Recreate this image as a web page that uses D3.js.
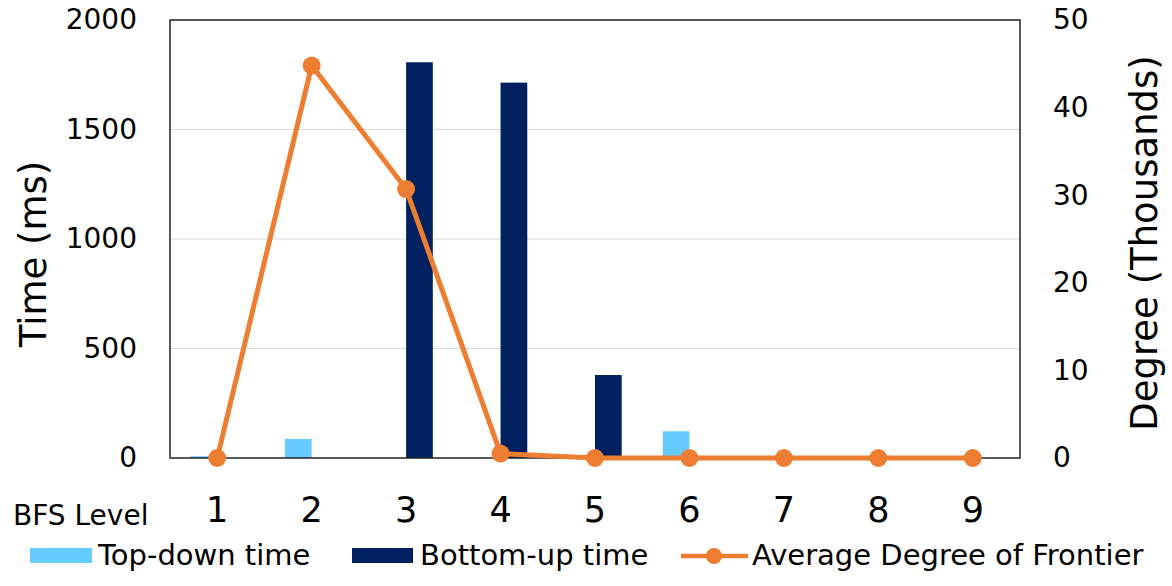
<!DOCTYPE html>
<html>
<head>
<meta charset="utf-8">
<script src="https://cdn.jsdelivr.net/npm/d3@7"></script>
<style>
  html, body { margin: 0; padding: 0; background: #fff; }
  text { font-family: "DejaVu Sans", Verdana, sans-serif; fill: #000; }
</style>
</head>
<body>
<svg id="chart" width="1172" height="586"></svg>
<script>
// ---- data ----
const levels = ["1", "2", "3", "4", "5", "6", "7", "8", "9"];
const topDownTime = [8, 87, 0, 0, 0, 122, 0, 0, 0];
const bottomUpTime = [0, 0, 1807, 1714, 379, 0, 0, 0, 0];
const avgDegree = [0, 44.8, 30.7, 0.5, 0, 0, 0, 0, 0];
const leftTicks = [0, 500, 1000, 1500, 2000];
const rightTicks = [0, 10, 20, 30, 40, 50];
const seriesNames = ["Top-down time", "Bottom-up time", "Average Degree of Frontier"];

const colors = { td: "#66CCFF", bu: "#002060", line: "#ED7D31" };

const svg = d3.select("#chart");
const m = { left: 170, right: 1020, top: 20, bottom: 458 };

const x = d3.scaleBand().domain(levels).range([m.left, m.right]).paddingInner(0).paddingOuter(0);
const xSub = d3.scaleBand().domain(["td", "bu"]).range([0, x.bandwidth()]).paddingInner(0).paddingOuter(0.768);
const yL = d3.scaleLinear().domain([0, 2000]).range([m.bottom, m.top]);
const yR = d3.scaleLinear().domain([0, 50]).range([m.bottom, m.top]);

// gridlines
svg.append("g").selectAll("line").data(leftTicks.filter(d => d > 0 && d < 2000)).join("line")
  .attr("x1", m.left).attr("x2", m.right)
  .attr("y1", d => yL(d)).attr("y2", d => yL(d))
  .attr("stroke", "#d9d9d9").attr("stroke-width", 1.2);

// bars
const rows = levels.map((l, i) => ({ level: l, td: topDownTime[i], bu: bottomUpTime[i] }));
const g = svg.append("g");
["td", "bu"].forEach(k => {
  g.selectAll("rect." + k).data(rows).join("rect").attr("class", k)
    .attr("x", d => x(d.level) + xSub(k))
    .attr("width", xSub.bandwidth())
    .attr("y", d => yL(d[k]))
    .attr("height", d => m.bottom - yL(d[k]))
    .attr("fill", colors[k]);
});

// plot border
svg.append("rect").attr("x", m.left).attr("y", m.top)
  .attr("width", m.right - m.left).attr("height", m.bottom - m.top)
  .attr("fill", "none").attr("stroke", "#222").attr("stroke-width", 1.5);

// line
const cx = i => x(levels[i]) + x.bandwidth() / 2;
const line = d3.line().x((d, i) => cx(i)).y(d => yR(d));
svg.append("path").datum(avgDegree).attr("d", line)
  .attr("fill", "none").attr("stroke", colors.line).attr("stroke-width", 5)
  .attr("stroke-linejoin", "round");
svg.append("g").selectAll("circle").data(avgDegree).join("circle")
  .attr("cx", (d, i) => cx(i)).attr("cy", d => yR(d)).attr("r", 9)
  .attr("fill", colors.line);

// left axis
const axL = d3.axisLeft(yL).tickValues(leftTicks).tickFormat(d3.format("d")).tickSize(0).tickPadding(0);
const gL = svg.append("g").attr("transform", "translate(137,0)").call(axL);
gL.select(".domain").remove();
gL.selectAll("text").style("font-size", "28px").style("font-family", "DejaVu Sans").attr("fill", "#000");

// right axis
const axR = d3.axisRight(yR).tickValues(rightTicks).tickFormat(d3.format("d")).tickSize(0).tickPadding(0);
const gR = svg.append("g").attr("transform", "translate(1053,0)").call(axR);
gR.select(".domain").remove();
gR.selectAll("text").style("font-size", "28px").style("font-family", "DejaVu Sans").attr("fill", "#000");

// bottom axis labels
const axB = d3.axisBottom(x).tickSize(0).tickPadding(0);
const gB = svg.append("g").attr("transform", "translate(0,497)").call(axB);
gB.select(".domain").remove();
gB.selectAll("text").style("font-size", "35px").style("font-family", "DejaVu Sans").attr("fill", "#000").attr("dy", "0.71em");

svg.append("text").attr("x", 13).attr("y", 525).style("font-size", "28px").text("BFS Level");

// axis titles
svg.append("text").attr("transform", "translate(46,254) rotate(-90)")
  .attr("text-anchor", "middle").style("font-size", "37px").text("Time (ms)");
svg.append("text").attr("transform", "translate(1157,243) rotate(-90)")
  .attr("text-anchor", "middle").style("font-size", "37px").text("Degree (Thousands)");

// legend
const lg = svg.append("g");
lg.append("rect").attr("x", 30).attr("y", 548).attr("width", 62).attr("height", 15).attr("fill", colors.td);
lg.append("text").attr("x", 98).attr("y", 565).style("font-size", "29px").text(seriesNames[0]);
lg.append("rect").attr("x", 352).attr("y", 548).attr("width", 61).attr("height", 15).attr("fill", colors.bu);
lg.append("text").attr("x", 420).attr("y", 565).style("font-size", "29px").text(seriesNames[1]);
lg.append("line").attr("x1", 681).attr("x2", 748).attr("y1", 556).attr("y2", 556)
  .attr("stroke", colors.line).attr("stroke-width", 4.5);
lg.append("circle").attr("cx", 714).attr("cy", 556).attr("r", 8).attr("fill", colors.line);
lg.append("text").attr("x", 752).attr("y", 565).style("font-size", "29px").text(seriesNames[2]);
</script>
</body>
</html>
